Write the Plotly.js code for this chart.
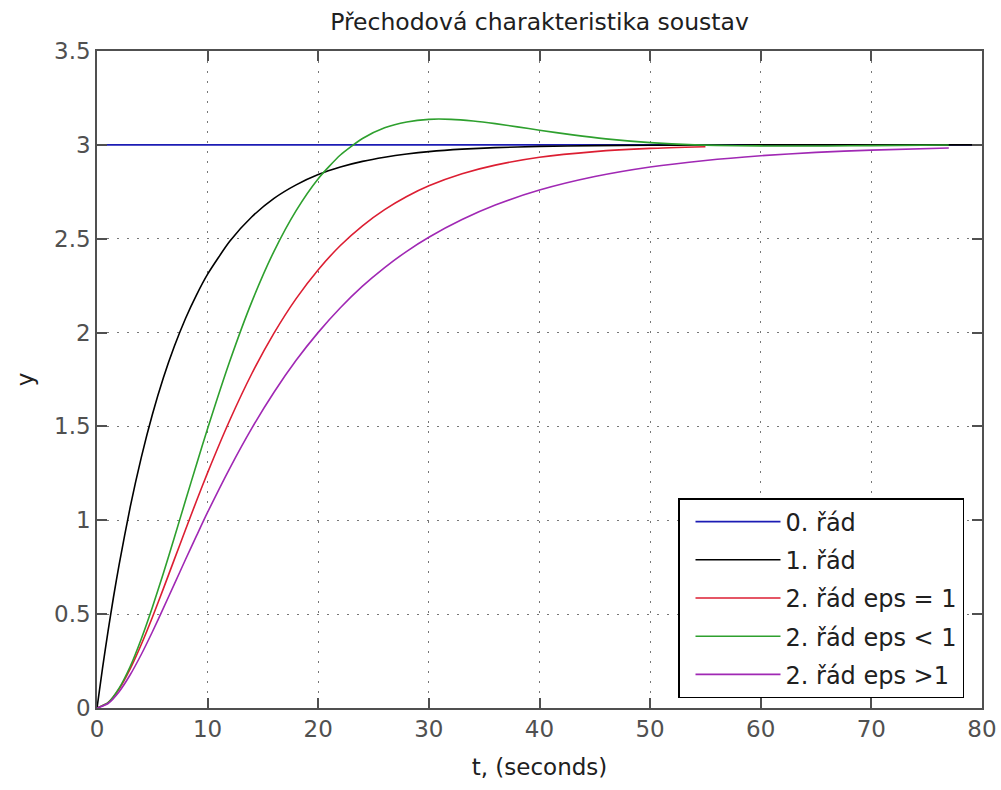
<!DOCTYPE html>
<html>
<head>
<meta charset="utf-8">
<script src="https://cdn.plot.ly/plotly-3.0.1.min.js"></script>
<style>html,body{margin:0;padding:0;background:#fff;}#chart{width:1001px;height:790px;}</style>
</head>
<body>
<div id="chart"></div>
<script>
// Series names (legend)
const seriesNames = ["0. řád", "1. řád", "2. řád eps = 1", "2. řád eps < 1", "2. řád eps >1"];

// 0. řád
const t0 = [0, 80];
const y0 = [3, 3];

// 1. řád
const t1 = [0, 0.5, 1, 1.5, 2, 3, 4, 5, 6, 7, 8, 9, 10, 12, 14, 16, 18, 20, 22, 24, 26, 28, 30, 33, 36, 40, 45, 50, 55, 60, 70, 80];
const y1 = [0, 0.213, 0.410, 0.594, 0.764, 1.070, 1.334, 1.562, 1.759, 1.928, 2.075, 2.201, 2.311, 2.486, 2.617, 2.715, 2.787, 2.842, 2.882, 2.912, 2.934, 2.951, 2.964, 2.977, 2.985, 2.992, 2.996, 2.998, 2.999, 3.0, 3.0, 3.0];

// 2. řád eps = 1
const t2 = [0, 1, 2, 3, 4, 5, 6, 7, 8, 9, 10, 12, 14, 16, 18, 20, 22, 24, 26, 28, 30, 33, 36, 40, 45, 50, 55];
const y2 = [0, 0.028, 0.101, 0.208, 0.338, 0.482, 0.636, 0.793, 0.950, 1.104, 1.254, 1.533, 1.782, 1.997, 2.181, 2.335, 2.464, 2.569, 2.655, 2.725, 2.782, 2.846, 2.892, 2.934, 2.964, 2.981, 2.990];

// 2. řád eps < 1
const t3 = [0, 1, 2, 3, 4, 5, 6, 7, 8, 9, 10, 12, 14, 16, 18, 20, 22, 24, 26, 28, 30, 32, 34, 36, 38, 40, 43, 46, 50, 54, 58, 62, 66, 70, 77];
const y3 = [0, 0.029, 0.106, 0.221, 0.368, 0.536, 0.718, 0.910, 1.105, 1.299, 1.489, 1.847, 2.165, 2.433, 2.650, 2.820, 2.946, 3.034, 3.091, 3.122, 3.136, 3.136, 3.127, 3.113, 3.096, 3.078, 3.053, 3.032, 3.012, 3.000, 2.995, 2.994, 2.994, 2.996, 2.999];

// 2. řád eps >1
const t4 = [0, 1, 2, 3, 4, 5, 6, 7, 8, 9, 10, 12, 14, 16, 18, 20, 22, 24, 26, 28, 30, 33, 36, 40, 45, 50, 55, 60, 65, 70, 77];
const y4 = [0, 0.024, 0.087, 0.177, 0.285, 0.405, 0.532, 0.661, 0.791, 0.918, 1.043, 1.277, 1.491, 1.682, 1.852, 2.001, 2.132, 2.247, 2.346, 2.433, 2.508, 2.602, 2.679, 2.759, 2.831, 2.882, 2.917, 2.942, 2.960, 2.972, 2.983];

const colors = ["#1c1cb4", "#000000", "#dc1e32", "#2ea02e", "#a028b4"];
const xs = [t0, t1, t2, t3, t4];
const ys = [y0, y1, y2, y3, y4];

const FONT = "DejaVu Sans, Liberation Sans, Arial, sans-serif";

const traces = xs.map((x, i) => ({
  x: x, y: ys[i], type: "scatter", mode: "lines",
  name: seriesNames[i], legendgroup: "g" + i,
  line: {color: colors[i], width: 1.6, shape: "spline", smoothing: 0.6}
}));

const axisCommon = {
  showline: true, linecolor: "#505050", linewidth: 1.5, mirror: "ticks",
  ticks: "inside", ticklen: 10, tickwidth: 1.5, tickcolor: "#505050",
  showgrid: true, gridcolor: "#777777", gridwidth: 1, griddash: "2px,8px",
  zeroline: false, tickfont: {family: FONT, size: 23, color: "#505050"}
};

const layout = {
  width: 1001, height: 790,
  margin: {l: 97, r: 19, t: 51, b: 82},
  paper_bgcolor: "#ffffff", plot_bgcolor: "#ffffff",
  title: {text: "Přechodová charakteristika soustav", font: {family: FONT, size: 23.5, color: "#202020"}, xref: "paper", x: 0.5, xanchor: "center", y: 0.972, yanchor: "middle"},
  xaxis: Object.assign({}, axisCommon, {range: [0, 80], dtick: 10, tick0: 0,
    title: {text: "t, (seconds)", font: {family: FONT, size: 23, color: "#202020"}, standoff: 18}}),
  yaxis: Object.assign({}, axisCommon, {range: [0, 3.5], dtick: 0.5, tick0: 0,
    title: {text: "y", font: {family: FONT, size: 23, color: "#202020"}, standoff: 14}}),
  showlegend: true,
  legend: {x: 0.6565, y: 0.0152, xanchor: "left", yanchor: "bottom",
    bgcolor: "#ffffff", bordercolor: "#000000", borderwidth: 1.5,
    font: {family: FONT, size: 24, color: "#202020"},
    traceorder: "grouped", tracegroupgap: 4, itemwidth: 85, indentation: 11}
};

Plotly.newPlot("chart", traces, layout, {displayModeBar: false, responsive: false});
</script>
</body>
</html>
